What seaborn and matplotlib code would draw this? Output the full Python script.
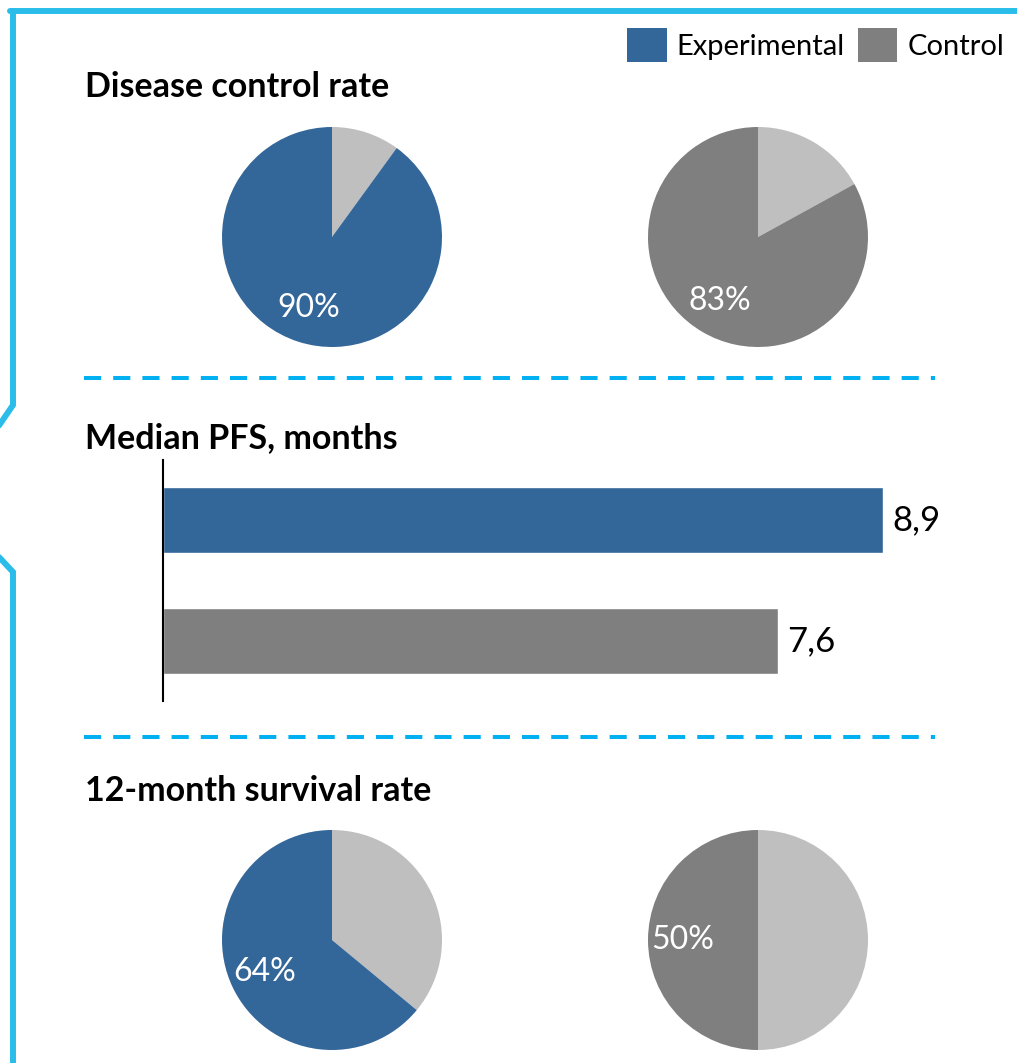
import matplotlib
matplotlib.use("Agg")
import matplotlib.pyplot as plt
import seaborn as sns
import pandas as pd
from matplotlib.lines import Line2D
from matplotlib.patches import Patch

# data
groups = ["Experimental", "Control"]
disease_control = [90, 83]
median_pfs = [8.9, 7.6]
survival_12m = [64, 50]

blue = "#336699"
dark_grey = "#7F7F7F"
light_grey = "#BFBFBF"
cyan = "#2BBDEA"
dash_cyan = "#00B0F0"
main_colors = [blue, dark_grey]

sns.set_style("white")
plt.rcParams["font.family"] = ["Lato", "DejaVu Sans"]
plt.rcParams["text.color"] = "black"

W, H = 1017, 1063
fig = plt.figure(figsize=(W / 100, H / 100), dpi=100)


def px_axes(left, top, width, height):
    # place an axes using pixel coords measured from the top-left
    return fig.add_axes([left / W, 1 - (top + height) / H, width / W, height / H])


def fx(x):
    return x / W


def fy(y):
    return 1 - y / H


# frame around the panel
fig.add_artist(Line2D([fx(13), fx(13), fx(-2)], [fy(11), fy(405), fy(427)],
                      color=cyan, lw=4.3, solid_joinstyle="miter", transform=fig.transFigure))
fig.add_artist(Line2D([fx(10), fx(W + 2)], [fy(11), fy(11)],
                      color=cyan, lw=4.3, transform=fig.transFigure))
fig.add_artist(Line2D([fx(-2), fx(13), fx(13)], [fy(556), fy(572), fy(H + 2)],
                      color=cyan, lw=4.3, solid_joinstyle="miter", transform=fig.transFigure))

# dashed separators
for y in [378, 737]:
    fig.add_artist(Line2D([fx(84), fx(935)], [fy(y), fy(y)], color=dash_cyan, lw=2.9,
                          linestyle=(0, (17 / 4, 12 / 4)), solid_capstyle="butt",
                          transform=fig.transFigure))

# section titles
titles = ["Disease control rate", "Median PFS, months", "12-month survival rate"]
for t, y in zip(titles, [97, 448, 801]):
    fig.text(fx(85), fy(y), t, fontsize=24.5, fontweight="bold", va="baseline", ha="left")


def draw_pie(cx, cy, value, color):
    ax = px_axes(cx - 110, cy - 110, 220, 220)
    wedges, texts, autotexts = ax.pie([100 - value, value], colors=[light_grey, color],
                                      startangle=90, counterclock=False, radius=1,
                                      autopct="%d%%", pctdistance=0.68,
                                      wedgeprops=dict(linewidth=0, edgecolor="none"),
                                      textprops=dict(color="white", fontsize=23))
    autotexts[0].set_text("")
    ax.set_xlim(-1, 1)
    ax.set_ylim(-1, 1)
    ax.set_aspect("equal")
    ax.axis("off")


for i, cx in enumerate([332, 758]):
    draw_pie(cx, 237, disease_control[i], main_colors[i])
    draw_pie(cx, 940, survival_12m[i], main_colors[i])

# bar chart of median PFS
bar_df = pd.DataFrame({"group": groups, "pfs": median_pfs})
axb = px_axes(163, 460, W - 163, 241)
sns.barplot(data=bar_df, x="pfs", y="group", hue="group", palette=main_colors,
            orient="h", width=0.55, legend=False, saturation=1, ax=axb)
axb.set_xlim(0, (W - 163) / 80.9)
axb.set_ylim(1.5, -0.5)
axb.set_xlabel("")
axb.set_ylabel("")
axb.set_xticks([])
axb.set_yticks([])
sns.despine(ax=axb, top=True, right=True, bottom=True, left=False)
axb.spines["left"].set_color("black")
axb.spines["left"].set_linewidth(1.5)
for i, v in enumerate(median_pfs):
    axb.text(v + 0.12, i, f"{v:.1f}".replace(".", ","), va="center", ha="left",
             fontsize=25, color="black")

# legend
handles = [Patch(facecolor=c, edgecolor="none") for c in main_colors]
fig.legend(handles, groups, loc="upper right", bbox_to_anchor=(fx(1004), fy(28)),
           ncol=2, frameon=False, fontsize=21, handlelength=1.34, handleheight=1.4,
           handletextpad=0.35, columnspacing=0.45, borderaxespad=0, borderpad=0)

fig.savefig("out.png", dpi=100)
